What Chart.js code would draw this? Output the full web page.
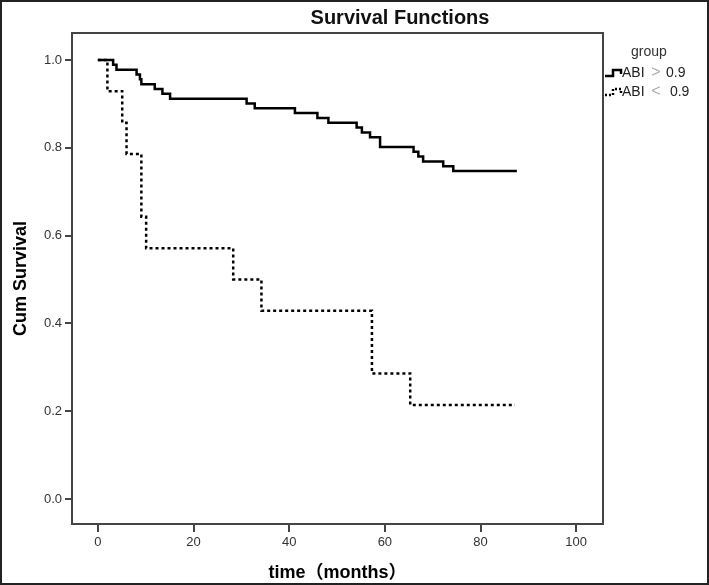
<!DOCTYPE html>
<html>
<head>
<meta charset="utf-8">
<script src="https://cdn.jsdelivr.net/npm/chart.js@4.4.0/dist/chart.umd.min.js"></script>
<style>
body { margin: 0; background: #fff; }
#myChart { display: block; }
</style>
</head>
<body>
<canvas id="myChart" width="709" height="585"></canvas>
<script>
// ABI > 0.9 group (solid line) - time where the step happens, survival after it
var highTime = [0, 3.2, 3.9, 8.1, 8.8, 9.1, 11.9, 13.5, 15.1, 31.1, 32.8, 41.2, 45.9, 48.2, 54.1, 55.2, 56.9, 59.0, 66.0, 67.0, 68.0, 72.2, 74.3, 87.6];
var highSurv = [1.0, 0.989, 0.978, 0.967, 0.956, 0.945, 0.934, 0.923, 0.912, 0.901, 0.890, 0.879, 0.868, 0.857, 0.846, 0.835, 0.824, 0.802, 0.791, 0.780, 0.769, 0.758, 0.747, 0.747];
// ABI < 0.9 group (dotted line)
var lowTime = [0, 2.0, 5.1, 6.0, 9.1, 10.1, 28.3, 34.2, 57.3, 65.3, 87.2];
var lowSurv = [1.0, 0.929, 0.857, 0.786, 0.643, 0.571, 0.5, 0.429, 0.286, 0.214, 0.214];
var xTicks = [0, 20, 40, 60, 80, 100];
var yTicks = [0, 0.2, 0.4, 0.6, 0.8, 1.0];
var groupLabels = ['ABI>0.9', 'ABI< 0.9'];

var FONT = '"Liberation Sans", Arial, "Noto Sans CJK SC", sans-serif';

function makePoints(t, s) {
    var pts = [];
    for (let i = 0; i < t.length; i++) {
        pts.push({ x: t[i], y: s[i] });
    }
    return pts;
}

// white background, outer frame, chart title and box round the plot
var framePlugin = {
    id: 'frame',
    beforeDraw: function (chart) {
        var ctx = chart.ctx;
        ctx.save();
        ctx.fillStyle = '#fff';
        ctx.fillRect(0, 0, chart.width, chart.height);
        ctx.restore();
    },
    beforeDatasetsDraw: function (chart) {
        var ctx = chart.ctx;
        var a = chart.chartArea;
        ctx.save();
        ctx.strokeStyle = '#444';
        ctx.lineWidth = 2;
        ctx.strokeRect(a.left, a.top, a.right - a.left, a.bottom - a.top);
        ctx.restore();
    },
    afterDraw: function (chart) {
        var ctx = chart.ctx;
        ctx.save();
        ctx.strokeStyle = '#222';
        ctx.lineWidth = 2;
        ctx.strokeRect(1, 1, chart.width - 2, chart.height - 2);
        ctx.fillStyle = '#111';
        ctx.font = 'bold 20px ' + FONT;
        ctx.textAlign = 'center';
        ctx.textBaseline = 'middle';
        ctx.fillText('Survival Functions', 400, 18);
        ctx.restore();
    }
};

// legend on the right with little step symbols
var legendPlugin = {
    id: 'stepLegend',
    afterDraw: function (chart) {
        var ctx = chart.ctx;
        ctx.save();
        ctx.fillStyle = '#333';
        ctx.font = '14px ' + FONT;
        ctx.textAlign = 'left';
        ctx.textBaseline = 'middle';
        ctx.fillText('group', 631, 52);
        var rows = [73, 92];
        for (let i = 0; i < chart.data.datasets.length; i++) {
            var ds = chart.data.datasets[i];
            var y = rows[i];
            ctx.strokeStyle = '#000';
            ctx.lineWidth = ds.borderWidth;
            ctx.setLineDash(ds.borderDash ? [2, 2] : []);
            ctx.beginPath();
            ctx.moveTo(605, y + 3);
            ctx.lineTo(613, y + 3);
            ctx.lineTo(613, y - 3);
            ctx.lineTo(621, y - 3);
            ctx.lineTo(621, y + 1);
            ctx.stroke();
            ctx.setLineDash([]);
            var parts = ds.label.split(/([<>])/);
            ctx.font = '14px ' + FONT;
            ctx.fillStyle = '#222';
            ctx.textAlign = 'left';
            ctx.fillText(parts[0], 622, y);
            ctx.font = '16px ' + FONT;
            ctx.fillStyle = '#aaa';
            ctx.textAlign = 'center';
            ctx.fillText(parts[1], 656, y);
            ctx.font = '14px ' + FONT;
            ctx.fillStyle = '#222';
            ctx.textAlign = 'left';
            ctx.fillText(parts[2], 666, y);
        }
        ctx.restore();
    }
};

var ctx = document.getElementById('myChart');
var chart = new Chart(ctx, {
    type: 'line',
    data: {
        datasets: [
            {
                label: groupLabels[0],
                data: makePoints(highTime, highSurv),
                borderColor: '#000',
                borderWidth: 2.5,
                stepped: 'before',
                pointRadius: 0,
                fill: false
            },
            {
                label: groupLabels[1],
                data: makePoints(lowTime, lowSurv),
                borderColor: '#000',
                borderWidth: 2.5,
                borderDash: [3, 3],
                stepped: 'before',
                pointRadius: 0,
                fill: false
            }
        ]
    },
    plugins: [framePlugin, legendPlugin],
    options: {
        responsive: false,
        animation: false,
        layout: { padding: { top: 33, right: 106, left: 0, bottom: 0 } },
        scales: {
            x: {
                type: 'linear',
                min: -5.4,
                max: 105.6,
                afterBuildTicks: function (scale) {
                    scale.ticks = xTicks.map(function (v) { return { value: v }; });
                },
                afterFit: function (scale) { scale.height = 61; },
                grid: { drawOnChartArea: false, tickLength: 8, color: '#444', lineWidth: 2 },
                border: { color: '#444', width: 2 },
                ticks: { padding: 3, color: '#333', autoSkip: false, maxRotation: 0, font: { size: 13, family: FONT } },
                title: {
                    display: true,
                    text: 'time（months）',
                    color: '#000',
                    font: { size: 18, weight: 'bold', family: FONT },
                    padding: { top: 0, bottom: 1 }
                }
            },
            y: {
                type: 'linear',
                min: -0.057,
                max: 1.0615,
                afterBuildTicks: function (scale) {
                    scale.ticks = yTicks.map(function (v) { return { value: v }; });
                },
                afterFit: function (scale) { scale.width = 72; },
                grid: { drawOnChartArea: false, tickLength: 7, color: '#444', lineWidth: 2 },
                border: { color: '#444', width: 2 },
                ticks: {
                    padding: 3,
                    color: '#333',
                    font: { size: 13, family: FONT },
                    callback: function (v) { return v.toFixed(1); }
                },
                title: {
                    display: true,
                    text: 'Cum Survival',
                    color: '#000',
                    font: { size: 18, weight: 'bold', family: FONT },
                    padding: { top: 10, bottom: 0 }
                }
            }
        },
        plugins: {
            legend: { display: false },
            tooltip: { enabled: false },
            title: { display: false }
        }
    }
});
</script>
</body>
</html>
